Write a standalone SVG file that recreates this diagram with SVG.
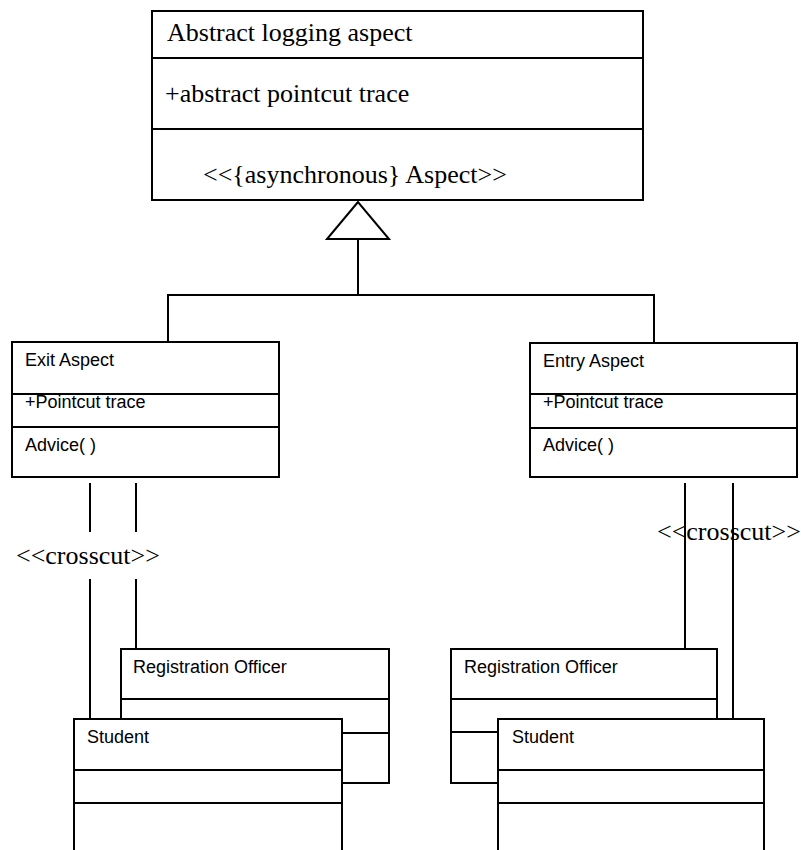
<svg xmlns="http://www.w3.org/2000/svg" width="801" height="850" viewBox="0 0 801 850">
  <style>
    .box { fill: #fff; stroke: #000; stroke-width: 2; }
    .div { stroke: #000; stroke-width: 2; fill: none; }
    .line { stroke: #000; stroke-width: 2; fill: none; }
    .serif { font-family: "Liberation Serif", "Times New Roman", serif; font-size: 26px; fill: #000; }
    .sans { font-family: "Liberation Sans", Arial, sans-serif; font-size: 18px; fill: #000; }
  </style>

  <!-- abstract aspect -->
  <g id="abstract-logging-aspect">
    <rect class="box" x="152" y="11" width="491" height="189"/>
    <line class="div" x1="152" y1="58" x2="643" y2="58"/>
    <line class="div" x1="152" y1="129" x2="643" y2="129"/>
    <text class="serif" x="167" y="41">Abstract logging aspect</text>
    <text class="serif" x="165" y="102">+abstract pointcut trace</text>
    <text class="serif" x="203" y="183">&lt;&lt;{asynchronous} Aspect&gt;&gt;</text>
  </g>

  <!-- stereotype labels -->
  <text class="serif" x="16" y="564">&lt;&lt;crosscut&gt;&gt;</text>
  <text class="serif" x="657" y="540">&lt;&lt;crosscut&gt;&gt;</text>

  <!-- connectors -->
  <g id="connectors">
    <path class="line" d="M168,343 V295 H654 V343"/>
    <line class="line" x1="358" y1="295" x2="358" y2="239"/>
    <polygon class="box" points="358,202 327,239 389,239"/>
    <line class="line" x1="90" y1="483" x2="90" y2="532"/>
    <line class="line" x1="90" y1="579" x2="90" y2="719"/>
    <line class="line" x1="136" y1="483" x2="136" y2="532"/>
    <line class="line" x1="136" y1="579" x2="136" y2="649"/>
    <line class="line" x1="685" y1="483" x2="685" y2="649"/>
    <line class="line" x1="733" y1="483" x2="733" y2="719"/>
  </g>

  <g id="exit-aspect">
    <rect class="box" x="12" y="342" width="267" height="135"/>
    <line class="div" x1="12" y1="394" x2="279" y2="394"/>
    <line class="div" x1="12" y1="427" x2="279" y2="427"/>
    <text class="sans" x="25" y="366">Exit Aspect</text>
    <text class="sans" x="25" y="408">+Pointcut trace</text>
    <text class="sans" x="25" y="451">Advice( )</text>
  </g>

  <g id="entry-aspect">
    <rect class="box" x="530" y="343" width="267" height="134"/>
    <line class="div" x1="530" y1="394" x2="797" y2="394"/>
    <line class="div" x1="530" y1="428" x2="797" y2="428"/>
    <text class="sans" x="543" y="367">Entry Aspect</text>
    <text class="sans" x="543" y="408">+Pointcut trace</text>
    <text class="sans" x="543" y="451">Advice( )</text>
  </g>

  <g id="registration-officer-left">
    <rect class="box" x="121" y="649" width="268" height="134"/>
    <line class="div" x1="121" y1="699" x2="389" y2="699"/>
    <line class="div" x1="121" y1="733" x2="389" y2="733"/>
    <text class="sans" x="133" y="673">Registration Officer</text>
  </g>

  <g id="student-left">
    <rect class="box" x="74" y="719" width="268" height="140"/>
    <line class="div" x1="74" y1="770" x2="342" y2="770"/>
    <line class="div" x1="74" y1="803" x2="342" y2="803"/>
    <text class="sans" x="87" y="743">Student</text>
  </g>

  <g id="registration-officer-right">
    <rect class="box" x="451" y="649" width="266" height="134"/>
    <line class="div" x1="451" y1="699" x2="717" y2="699"/>
    <line class="div" x1="451" y1="732" x2="717" y2="732"/>
    <text class="sans" x="464" y="673">Registration Officer</text>
  </g>

  <g id="student-right">
    <rect class="box" x="498" y="719" width="266" height="140"/>
    <line class="div" x1="498" y1="770" x2="764" y2="770"/>
    <line class="div" x1="498" y1="803" x2="764" y2="803"/>
    <text class="sans" x="512" y="743">Student</text>
  </g>
</svg>
